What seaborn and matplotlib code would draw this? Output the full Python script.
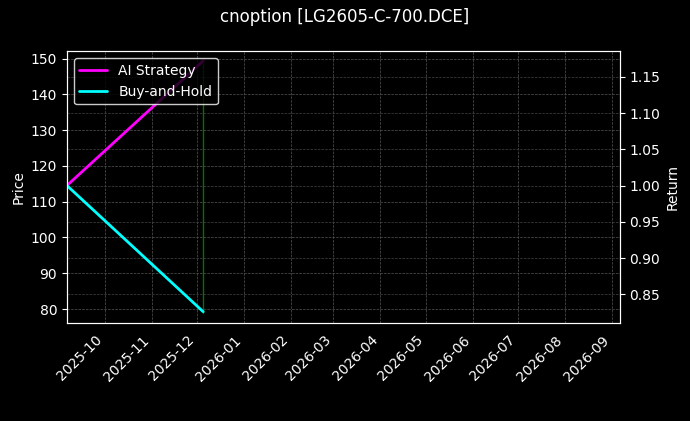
import matplotlib
matplotlib.use("Agg")
import matplotlib.pyplot as plt
import matplotlib.dates as mdates
import seaborn as sns
import pandas as pd

dates = pd.to_datetime(["2025-09-06", "2025-12-05"])
ai_strategy = [1.0, 1.172]
buy_hold = [1.0, 0.826]
price_dates = pd.to_datetime(["2025-12-05", "2025-12-05"])
price = [79.0, 148.5]

plt.style.use("dark_background")
sns.set_style("darkgrid", {"axes.facecolor": "black", "figure.facecolor": "black",
                           "grid.color": "#444444", "axes.edgecolor": "white",
                           "text.color": "white", "axes.labelcolor": "white",
                           "xtick.color": "white", "ytick.color": "white"})
plt.rcParams['font.family'] = ['DejaVu Sans']

fig, ax = plt.subplots(figsize=(6.9, 4.21), dpi=100)
fig.patch.set_facecolor("black")
ax.set_facecolor("black")
ax.plot(price_dates, price, color="green", linewidth=1, alpha=0.9)
ax.set_ylim(76, 152)
ax.set_ylabel("Price", color="white")
ax.set_xlabel("")
ax.grid(True, linestyle="--", linewidth=0.5, color="#555555")

ax2 = ax.twinx()
sns.lineplot(x=dates, y=ai_strategy, ax=ax2, color="magenta", linewidth=2, label="AI Strategy")
sns.lineplot(x=dates, y=buy_hold, ax=ax2, color="cyan", linewidth=2, label="Buy-and-Hold")
ax2.set_ylim(0.81, 1.185)
ax2.set_ylabel("Return", color="white")
ax2.set_xlabel("")
ax2.grid(True, axis="y", linestyle="--", linewidth=0.5, color="#444444")
leg = ax2.legend(loc="upper left", facecolor="black", edgecolor="white", framealpha=0.8)
for t in leg.get_texts():
    t.set_color("white")

ax.set_xlim(pd.Timestamp("2025-09-06"), pd.Timestamp("2026-09-06"))
ax.xaxis.set_major_locator(mdates.MonthLocator())
ax.xaxis.set_major_formatter(mdates.DateFormatter("%Y-%m"))
plt.setp(ax.get_xticklabels(), rotation=45, ha="right")
for a in (ax, ax2):
    for s in a.spines.values():
        s.set_color("white")
fig.suptitle("cnoption [LG2605-C-700.DCE]", color="white")
fig.subplots_adjust(left=0.097, right=0.898, top=0.878, bottom=0.232)
fig.savefig("out.png", dpi=100, facecolor="black")
